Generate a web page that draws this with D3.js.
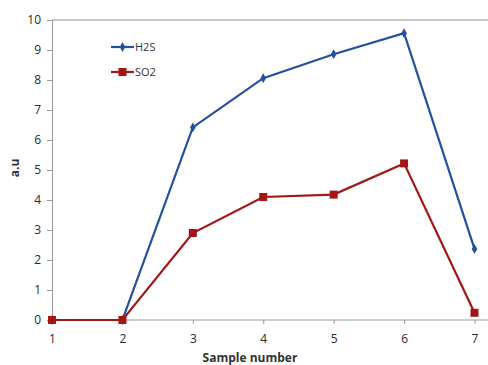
<!DOCTYPE html>
<html>
<head>
<meta charset="utf-8">
<script src="https://cdn.jsdelivr.net/npm/d3@7"></script>
<style>
  body { margin: 0; background: #fff; }
  text { font-family: "Open Sans", "Liberation Sans", sans-serif; fill: #333; }
</style>
</head>
<body>
<div id="chart"></div>
<script>
// sample numbers and measured values
const samples = [1, 2, 3, 4, 5, 6, 7];
const h2s = [0, 0, 6.42, 8.06, 8.86, 9.56, 2.37];
const so2 = [0, 0, 2.9, 4.1, 4.18, 5.22, 0.24];
const yTicks = [0, 1, 2, 3, 4, 5, 6, 7, 8, 9, 10];

const W = 488, H = 365;
let svg = d3.select("#chart").append("svg").attr("width", W).attr("height", H);

let x = d3.scaleLinear().domain([1, 7]).range([52, 474.5]);
let y = d3.scaleLinear().domain([0, 10]).range([320, 20]);

// top line at 10
svg.append("line")
  .attr("x1", x(1)).attr("x2", W)
  .attr("y1", y(10)).attr("y2", y(10))
  .attr("stroke", "#b5b5b5").attr("stroke-width", 1.5);

// y axis
let yAxis = svg.append("g").attr("transform", "translate(" + x(1) + ",0)")
  .call(d3.axisLeft(y).tickValues(yTicks).tickSize(5).tickPadding(6));
yAxis.select(".domain").attr("stroke", "#999");
yAxis.selectAll(".tick line").attr("stroke", "#999");
yAxis.selectAll("text").style("font-size", "12px").style("fill", "#2a2a2a");

// x axis
let xAxis = svg.append("g").attr("transform", "translate(0," + y(0) + ")")
  .call(d3.axisBottom(x).tickValues(samples).tickFormat(d3.format("d")).tickSize(4).tickPadding(10));
xAxis.select(".domain").attr("d", "M" + x(1) + ",0H" + W).attr("stroke", "#999");
xAxis.selectAll(".tick line").attr("stroke", "#999");
xAxis.selectAll("text").style("font-size", "12px").style("fill", "#2a2a2a");

svg.append("text")
  .attr("x", 250).attr("y", 362)
  .attr("text-anchor", "middle")
  .style("font-size", "12px").style("font-weight", "bold")
  .text("Sample number");

svg.append("text")
  .attr("transform", "translate(19,168) rotate(-90)")
  .attr("text-anchor", "middle")
  .style("font-size", "12px").style("font-weight", "bold")
  .text("a.u");

const blue = "#24509e", red = "#a21616";

let line = d3.line().x((d, i) => x(samples[i])).y(d => y(d));

svg.append("path").datum(h2s)
  .attr("fill", "none").attr("stroke", blue).attr("stroke-width", 2.2)
  .attr("d", line);
svg.append("path").datum(so2)
  .attr("fill", "none").attr("stroke", red).attr("stroke-width", 2.2)
  .attr("d", line);

let diamond = d3.symbol().type(d3.symbolDiamond).size(28);
svg.append("g").selectAll("path").data(h2s).enter().append("path")
  .attr("d", diamond)
  .attr("transform", (d, i) => "translate(" + x(samples[i]) + "," + y(d) + ")")
  .attr("fill", blue);

svg.append("g").selectAll("rect").data(so2).enter().append("rect")
  .attr("x", (d, i) => x(samples[i]) - 4).attr("y", d => y(d) - 4)
  .attr("width", 8).attr("height", 8).attr("fill", red);

// legend
let legend = [{name: "H2S", color: blue, y: 47}, {name: "SO2", color: red, y: 72}];
legend.forEach(l => {
  svg.append("line").attr("x1", 111).attr("x2", 134).attr("y1", l.y).attr("y2", l.y)
    .attr("stroke", l.color).attr("stroke-width", 2.2);
  if (l.name == "H2S") {
    svg.append("path").attr("d", diamond)
      .attr("transform", "translate(122.5," + l.y + ")").attr("fill", l.color);
  } else {
    svg.append("rect").attr("x", 118.5).attr("y", l.y - 4).attr("width", 8).attr("height", 8).attr("fill", l.color);
  }
  svg.append("text").attr("x", 135).attr("y", l.y + 4)
    .style("font-size", "11px").text(l.name);
});
</script>
</body>
</html>
